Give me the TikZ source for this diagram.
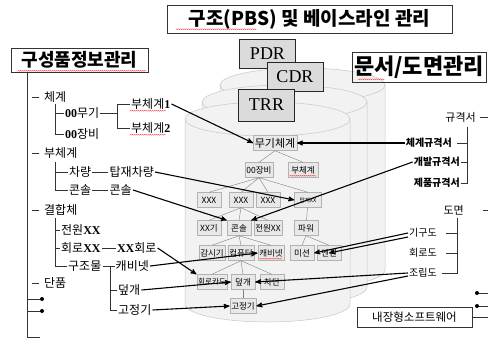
\documentclass[tikz,border=0pt]{standalone}
\usepackage{fontspec}
\setmainfont{Liberation Serif}
\newfontfamily\kr{Noto Sans CJK KR}
\usepackage{tikz}
\usetikzlibrary{arrows}
\usetikzlibrary{positioning}
\usetikzlibrary{decorations.pathmorphing}
\newcommand{\fsz}[1]{\fontsize{#1}{#1}\selectfont}
\newcommand{\bnum}[1]{{\rmfamily\bfseries #1}}

\begin{document}
\begin{tikzpicture}[x=1pt,y=-1pt,>=stealth',
		title/.style={rectangle,draw=black!80,line width=0.6pt,inner sep=0pt,font=\kr\bfseries},
		review/.style={rectangle,draw=black!85,line width=0.9pt,fill=black!14,minimum width=56pt,minimum height=29pt,font=\fsz{18}},
		cyl/.style={draw=black!22,fill=black!5,line width=0.5pt},
		item/.style={rectangle,draw=black!30,fill=black!9,inner sep=1.5pt,minimum width=24pt,minimum height=15pt,font=\kr\fsz{8.5}},
		lbl/.style={inner sep=1pt,font=\kr\fsz{12}},
		doc/.style={inner sep=1pt,anchor=east,font=\kr\bfseries\fsz{10}},
		dwg/.style={inner sep=1pt,anchor=east,font=\kr\fsz{10}},
		tree/.style={draw=black!50,line width=0.4pt},
		brk/.style={draw=black!80,line width=0.6pt},
		link/.style={->,draw=black,line width=1.1pt},
		spell/.style={draw=red!75,line width=0.35pt,decorate,decoration={snake,amplitude=0.5pt,segment length=2pt}}]
		\useasboundingbox (0,0) rectangle (488,341);
		
		\foreach \cx/\cy/\cb in {220/85/270,202/102/287,185/119/304}{
			\path[cyl] (\cx,\cy) -- (\cx,\cb) arc[start angle=180,end angle=0,x radius=82.5,y radius=18]
			-- (\cx+165,\cy) arc[start angle=0,end angle=-180,x radius=82.5,y radius=17] -- cycle;
			\draw[cyl,fill=none] (\cx,\cy) arc[start angle=180,end angle=0,x radius=82.5,y radius=17];
		}
		
		\node[title,minimum width=285pt,minimum height=28pt] (pbs) at (309.5,19) {\fsz{19}구조(PBS) 및 베이스라인 관리};
		\node[title,minimum width=137pt,minimum height=24pt] (cinfo) at (79.5,60) {\fsz{18}구성품정보관리};
		\node[title,minimum width=134pt,minimum height=30pt] (docs) at (419,67) {\fsz{22}문서/도면관리};
		
		\node[review] (pdr) at (267.5,53.5) {PDR};
		\node[review] (cdr) at (295,76.5) {CDR};
		\node[review,minimum height=32pt] (trr) at (266.5,105) {TRR};
		
		% inner tree
		\node[item,font=\kr\fsz{11}] (wsys) at (275,143) {무기체계};
		\node[item] (eq)   at (259,170) {00장비};
		\node[item,minimum width=30pt] (isub) at (303,170) {부체계};
		\node[item] (x1)   at (209,200) {XXX};
		\node[item] (x2)   at (241,200) {XXX};
		\node[item] (x3)   at (268,200) {XXX};
		\node[item,minimum width=27pt,font=\kr\fsz{5.5}] (carx) at (308,200) {탑재XX};
		\node[item] (xxg)  at (209,228) {XX기};
		\node[item] (con)  at (239,228) {콘솔};
		\node[item] (pwx)  at (268,228) {전원XX};
		\node[item] (pwr)  at (306,228) {파워};
		\node[item] (mon)  at (212,253) {감시기};
		\node[item] (cmp)  at (241,253) {컴퓨터};
		\node[item] (cab)  at (271,253) {캐비넷};
		\node[item] (msn)  at (302,253) {미션};
		\node[item] (eng)  at (329,253) {엔진};
		\node[item,font=\kr\fsz{7.5}] (pcb) at (212,282) {회로카드};
		\node[item] (cov)  at (243,282) {덮개};
		\node[item] (brk)  at (272,282) {차단};
		\node[item] (fix)  at (243,306) {고정기};
		
		\draw[tree] (wsys.south) -- (eq.north) (wsys.south) -- (isub.north);
		\foreach \c in {x1,x2,x3,carx} \draw[tree] (eq.south) -- (\c.north);
		\foreach \c in {xxg,con,pwx} \draw[tree] (x2.south) -- (\c.north);
		\draw[tree] (carx) -- (pwr);
		\foreach \c in {mon,cmp,cab} \draw[tree] (con.south) -- (\c.north);
		\foreach \c in {msn,eng} \draw[tree] (pwr.south) -- (\c.north);
		\foreach \c in {pcb,cov,brk} \draw[tree] (cmp.south) -- (\c.north);
		\draw[tree] (cov) -- (fix);
		
		% left tree
		\node[lbl,anchor=west] (sys)    at (43,97)  {체계};
		\node[lbl,anchor=west] (wpn)    at (64,113) {\bnum{00}무기};
		\node[lbl,anchor=west] (equip)  at (64,134) {\bnum{00}장비};
		\node[lbl,anchor=west] (sub1)   at (130,104) {부체계\bnum{1}};
		\node[lbl,anchor=west] (sub2)   at (130,128) {부체계\bnum{2}};
		\node[lbl,anchor=west] (subs)   at (43,153) {부체계};
		\node[lbl,anchor=west] (car)    at (68,172) {차량};
		\node[lbl] (carry) [right=16pt of car] {탑재차량};
		\node[lbl,anchor=west] (cons)   at (68,190) {콘솔};
		\node[lbl] (cons2) [right=16pt of cons] {콘솔};
		\node[lbl,anchor=west] (assy)   at (43,210) {결합체};
		\node[lbl,anchor=west] (psu)    at (60,230) {전원\bnum{XX}};
		\node[lbl,anchor=west] (ckt)    at (60,248) {회로\bnum{XX}};
		\node[lbl] (ckt2) [right=14pt of ckt] {\bnum{XX}회로};
		\node[lbl,anchor=west] (strc)   at (67,266) {구조물};
		\node[lbl] (cab2) [right=12pt of strc] {캐비넷};
		\node[lbl,anchor=west] (cov2)   at (117,290) {덮개};
		\node[lbl,anchor=west] (fix2)   at (117,310) {고정기};
		\node[lbl,anchor=west] (single) at (43,283) {단품};
		
		\coordinate (spine) at (27,337);
		\draw[brk] (cinfo.south -| spine) -- (spine) -- ++(13,0);
		\foreach \n in {sys,subs,assy,single} \draw[brk] (\n.west) ++(-4,0) -- ++(-7,0);
		\foreach \y [count=\i] in {299,311}{
			\coordinate (bl\i) at (42,\y);
			\draw[brk] (bl\i -| spine) -- (bl\i);
			\fill (bl\i) circle (2pt);
		}
		\coordinate (v1) at (55,104);
		\draw[brk] (v1) |- (equip.west) (v1 |- wpn.west) -- (wpn.west);
		\coordinate (v2) at (117,104);
		\draw[brk] (wpn.east) -- (v2 |- wpn.east) (sub1.west) -| (v2 |- sub2.west) -- (sub2.west);
		\coordinate (v3) at (55,162);
		\draw[brk] (v3) |- (cons.west) (v3 |- car.west) -- (car.west);
		\draw[brk] (car.east) -- (carry.west) (cons.east) -- (cons2.west);
		\coordinate (v4) at (55,218);
		\draw[brk] (v4) |- (strc.west) (v4 |- psu.west) -- (psu.west) (v4 |- ckt.west) -- (ckt.west);
		\draw[brk] (ckt.east) -- (ckt2.west) (strc.east) -- (cab2.west);
		\coordinate (v5) at (110,266);
		\draw[brk] (v5) |- (fix2.west) (v5 |- cov2.west) -- (cov2.west);
		
		% right side
		\node[lbl,anchor=east,font=\kr\fsz{11}] (spec) at (477,117) {규격서};
		\node[doc] (spec1) at (453,143) {체계규격서};
		\node[doc] (spec2) at (461,162) {개발규격서};
		\node[doc] (spec3) at (461,183) {제품규격서};
		\node[lbl,anchor=east,font=\kr\fsz{11}] (draw) at (465,210) {도면};
		\node[dwg] (mech) at (438,233) {기구도};
		\node[dwg] (circ) at (438,253) {회로도};
		\node[dwg] (asm)  at (438,273) {조립도};
		\node[rectangle,draw=black!80,line width=0.6pt,minimum width=115pt,minimum height=20pt,font=\kr\fsz{11.5}] (sw) at (414.5,317) {내장형소프트웨어};
		
		\coordinate (edge) at (488,0);
		\draw[brk] (spec.east) ++(3,0) -- (spec.east -| edge);
		\draw[brk] (draw.east) ++(18,0) -- (draw.east -| edge);
		\draw[brk] (sw.east) -- (sw.east -| edge);
		\coordinate (v6) at (467,127);
		\draw[brk] (v6) |- (spec3.east) (v6 |- spec2.east) -- (spec2.east) (v6 |- spec1.east) -- ([xshift=4pt]spec1.east);
		\coordinate (v7) at (457,218);
		\draw[brk] (v7) |- ([xshift=4pt]asm.east) (v7 |- circ.east) -- ([xshift=8pt]circ.east) (v7 |- mech.east) -- ([xshift=8pt]mech.east);
		\foreach \y [count=\i] in {293,306}{
			\coordinate (br\i) at (477,\y);
			\draw[brk] (br\i) -- (br\i -| edge);
			\fill (br\i) circle (2pt);
		}
		
		% links
		\draw[link] (sub1.east) -- (wsys.west);
		\draw[link] (carry.east) -- (carx.west);
		\draw[link] (cons2.east) -- (con.north west);
		\draw[link] (ckt2.east) -- (pcb.north west);
		\draw[link] (cab2.east) -- (cab.west);
		\draw[link] (cov2.east) -- (cov.west);
		\draw[link] (fix2.east) -- (fix.west);
		\draw[link] (spec1.west) -- (wsys.east);
		\draw[link] (spec2.west) -- (con.north east);
		\draw[link] (mech.west) -- (msn.east);
		\draw[link] ([yshift=-4pt]mech.west) -- (eng.center);
		\draw[link] (asm.west) -- (cov.east);
		\draw[link] ([yshift=-3pt]asm.west) -- (fix.east);
		
		% spelling marks
		\draw[spell] ([xshift=7pt,yshift=1.5pt]cinfo.south west) -- ([xshift=-2pt,yshift=1.5pt]cinfo.south east);
		\draw[spell] ([xshift=9pt,yshift=4pt]pbs.south west) -- ([xshift=90pt,yshift=4pt]pbs.south west);
		\draw[spell] ([xshift=6pt,yshift=3pt]docs.south west) -- ([xshift=33pt,yshift=3pt]docs.south west);
		\draw[spell] (sub1.south west) -- ([xshift=-6pt]sub1.south east);
		\draw[spell] (sub2.south west) -- ([xshift=-6pt]sub2.south east);
		\draw[spell] ([xshift=2pt,yshift=2pt]isub.south west) -- ([xshift=-2pt,yshift=2pt]isub.south east);
		\draw[spell] ([xshift=2pt,yshift=2pt]cab.south west) -- ([xshift=-2pt,yshift=2pt]cab.south east);
\end{tikzpicture}
\end{document}
